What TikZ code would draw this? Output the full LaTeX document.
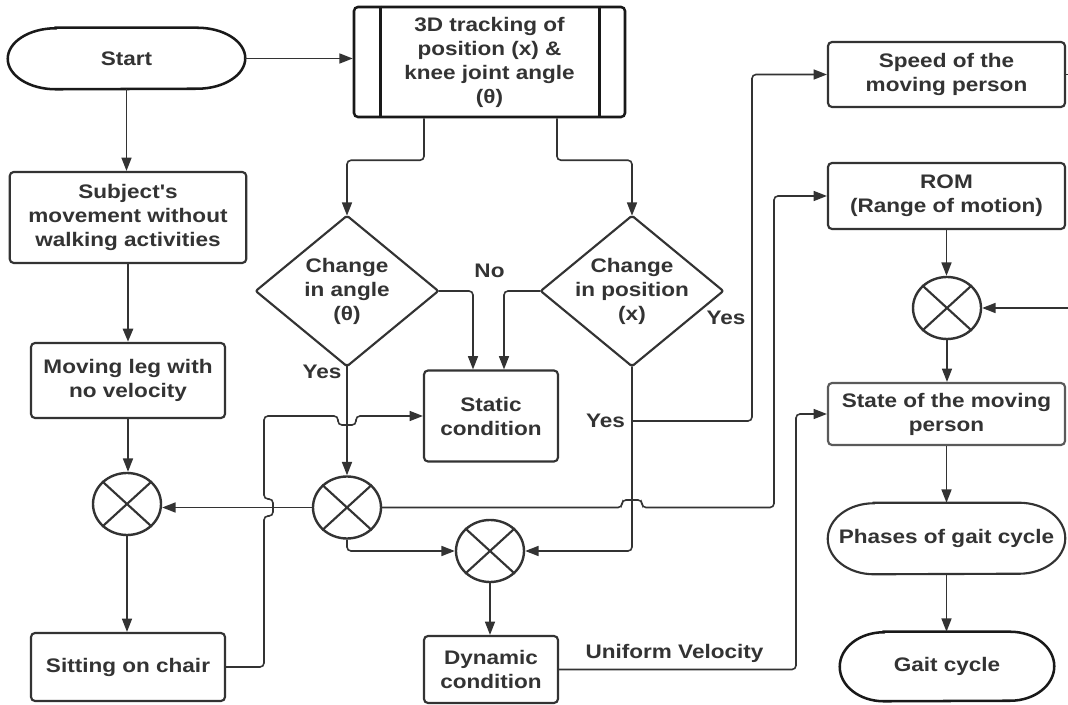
\documentclass[tikz,border=0pt]{standalone}
\usepackage{fontspec}
\setmainfont{Liberation Sans}[FakeStretch=1.15,Ligatures=TeXOff]
\usetikzlibrary{arrows.meta,shapes.geometric}
\definecolor{ink}{HTML}{333333}
\definecolor{lightink}{HTML}{5A5A5A}
\newcommand\stadium[4]{% name, rx, ry, style
  \draw[#4] ([xshift=#2]#1.north west) -- ([xshift=-#2]#1.north east)
    arc[start angle=90,end angle=-90,x radius=#2,y radius=#3]
    -- ([xshift=#2]#1.south west)
    arc[start angle=270,end angle=90,x radius=#2,y radius=#3] -- cycle;}
\tikzset{
  box/.style={draw=ink, line width=1.6pt, rounded corners=3pt, inner sep=0pt, align=center},
  tbox/.style={draw=none, inner sep=0pt, align=center},
  shapeline/.style={draw=ink, line width=1.6pt, rounded corners=1.5pt},
  sumnode/.style={ellipse, draw=ink, line width=1.8pt, minimum width=51pt, minimum height=46.5pt, inner sep=0pt},
  conn/.style={draw=ink, line width=1.2pt, rounded corners=3pt, -{Triangle[length=10pt,width=7.5pt]}},
  plainline/.style={draw=ink, line width=1.2pt},
  termdark/.style={draw=black!90, line width=1.9pt},
  termink/.style={draw=ink, line width=1.6pt},
  lbl/.style={anchor=base, inner sep=0pt},
}
\newcommand\crossit[1]{\draw[ink, line width=1.6pt] (#1.north east) -- (#1.south west) (#1.north west) -- (#1.south east);}
\begin{document}
\begin{tikzpicture}[x=0.75pt, y=-0.75pt, font=\fontsize{14.7}{18}\selectfont\bfseries, text=ink]
\useasboundingbox (0,0) rectangle (1068,705);
\fill[white] (0,0) rectangle (1068,705);

% terminators and boxes
\node[tbox, minimum width=177.75pt, minimum height=45.75pt] (start) at (126.5,58.5) {Start};
\stadium{start}{36pt}{22.875pt}{termdark}

\node[box, draw=black!90, line width=1.9pt, minimum width=203.25pt, minimum height=82.5pt] (track) at (489.5,62) {3D tracking of\\position (x) \&\\knee joint angle\\(θ)};
\draw[black!90, line width=1.9pt] ([xshift=21pt]track.north west) -- ([xshift=21pt]track.south west)
  ([xshift=-20.25pt]track.north east) -- ([xshift=-20.25pt]track.south east);

\node[box, minimum width=177.4pt, minimum height=68.25pt] (subject) at (128,217.5) {Subject's\\movement without\\walking activities};
\node[box, minimum width=145.5pt, minimum height=56.25pt] (moving) at (128,380.5) {Moving leg with\\no velocity};
\node[box, minimum width=145.5pt, minimum height=51pt] (sitting) at (128,667) {Sitting on chair};

\node[sumnode] (sum1) at (127,504) {};
\node[sumnode] (sum2) at (347,507.5) {};
\node[sumnode] (sum3) at (490,551) {};
\node[sumnode] (sum4) at (947,308) {};
\crossit{sum1}\crossit{sum2}\crossit{sum3}\crossit{sum4}

\node[tbox, minimum width=136.5pt, minimum height=112.5pt] (angle) at (347,291) {Change\\in angle\\(θ)};
\draw[shapeline] (angle.north) -- (angle.east) -- (angle.south) -- (angle.west) -- cycle;
\node[tbox, minimum width=136.5pt, minimum height=112.5pt] (pos) at (632,291) {Change\\in position\\(x)};
\draw[shapeline] (pos.north) -- (pos.east) -- (pos.south) -- (pos.west) -- cycle;

\node[box, minimum width=100.5pt, minimum height=68.25pt] (static) at (491,416) {Static\\condition};
\node[box, minimum width=100.5pt, minimum height=50.25pt] (dynamic) at (491,669.5) {Dynamic\\condition};

\node[box, minimum width=177.75pt, minimum height=48.75pt] (speed) at (946.5,74.5) {Speed of the\\moving person};
\node[box, minimum width=177.75pt, minimum height=49.5pt] (rom) at (946.5,196) {ROM\\(Range of motion)};
\node[box, draw=lightink, minimum width=177.75pt, minimum height=46.5pt] (state) at (946.5,414) {State of the moving\\person};
\node[tbox, minimum width=177.75pt, minimum height=53.25pt] (phases) at (946.5,538.5) {Phases of gait cycle};
\stadium{phases}{34.5pt}{26.625pt}{termink}
\node[tbox, minimum width=160.5pt, minimum height=51.75pt] (gait) at (947,666.5) {Gait cycle};
\stadium{gait}{33pt}{25.875pt}{termdark}

% labels
\node[lbl] (lno) at (489.5,278) {No};
\node[lbl] (lyes1) at (322,379) {Yes};
\node[lbl] (lyes2) at (726,325) {Yes};
\node[lbl] (lyes3) at (605.5,428) {Yes};
\node[lbl] (luni) at (674.5,658) {Uniform Velocity};

% connectors
\draw[conn] (start.east) -- (start.east -| track.west);
\draw[conn] (start.south) -- (start.south |- subject.north);
\draw[conn, line width=2.2pt] (subject.south) -- (moving.north);
\draw[conn] (moving.south) -- (moving.south |- sum1.north);
\draw[conn] (sum1.south) -- (sum1.south |- sitting.north);
\draw[conn] (sitting.east) -| (264,516) -- (273,516) -- (273,499) -- (264,499) -- (264,416)
  -- (338,416) -- (338,425) -- (356,425) -- (356,416) -- (static.west);
\draw[conn] ([xshift=-49.1pt]track.south) -- ++(0,42) -| (angle.north);
\draw[conn] ([xshift=50.6pt]track.south) -- ++(0,42) -| (pos.north);
\draw[conn] (angle.east) -| ([xshift=-13.5pt]static.north);
\draw[conn] (pos.west) -| ([xshift=9.75pt]static.north);
\draw[conn] (angle.south) -- (sum2.north);
\draw[conn] (sum2.west) -- (sum2.west -| sum1.east);
\draw[conn] (sum2.east) -- (622,507.5) -- (622,500) -- (642,500) -- (642,507.5) -- (774,507.5) |- (rom.west);
\draw[conn] (sum2.south) |- (sum3.west);
\draw[conn] (pos.south) |- (sum3.east);
\coordinate (yb) at (632,421);
\draw[conn] (yb) -- (752,421) |- (speed.west);
\draw[conn] (sum3.south) -- (sum3.south |- dynamic.north);
\draw[conn] (dynamic.east) -| (796,414) -- (state.west);
\draw[conn] (rom.south) -- (rom.south |- sum4.north);
\coordinate (rin) at (1068,308);
\draw[conn] (rin) -- (sum4.east);
\draw[conn] (sum4.south) -- (sum4.south |- state.north);
\draw[conn] (state.south) -- (state.south |- phases.north);
\draw[conn] (phases.south) -- (phases.south |- gait.north);
\coordinate (rout) at (1068,74.5);
\draw[plainline] (speed.east) -- (rout);
\end{tikzpicture}
\end{document}
